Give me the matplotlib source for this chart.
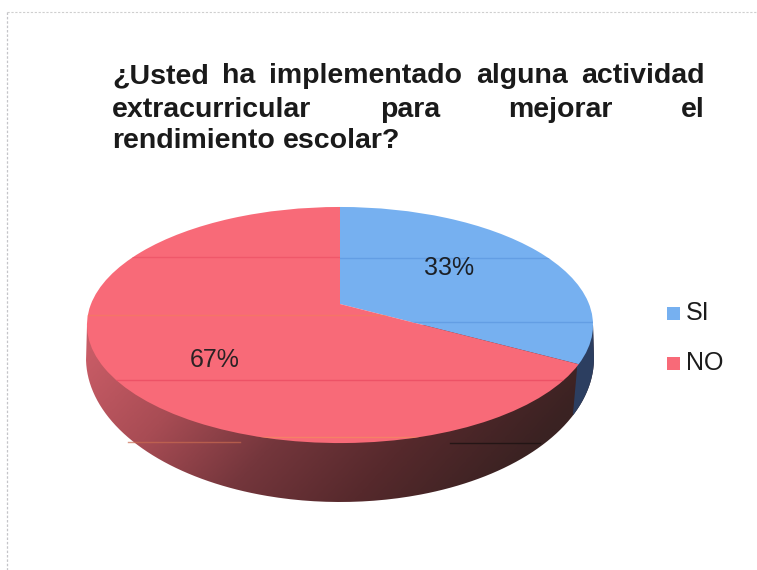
import numpy as np
import matplotlib
matplotlib.use("Agg")
import matplotlib.pyplot as plt
from matplotlib.path import Path
from matplotlib.patches import PathPatch, Rectangle
from matplotlib.transforms import Transform
from matplotlib.colors import LinearSegmentedColormap

plt.rcParams['font.family'] = ['Liberation Sans', 'DejaVu Sans']

# datos
categories = ["SI", "NO"]
values = [33, 67]
title_lines = ["¿Usted ha implementado alguna actividad",
               "extracurricular para mejorar el",
               "rendimiento escolar?"]
colors = ["#76b0f0", "#f86a78"]

# geometria en pixeles de la imagen
CX, CY = 340, 304
K, A, C = 0.178, 114.3, 249


class TiltTransform(Transform):
    """Proyecta el circulo unidad al disco inclinado (en pixeles)."""
    input_dims = output_dims = 2

    def transform_non_affine(self, xy):
        xy = np.asarray(xy)
        w = 1 + K * xy[:, 1]
        return np.column_stack([CX + C * xy[:, 0] / w, CY - A * xy[:, 1] / w])

    def transform_path_non_affine(self, path):
        return Path(self.transform_non_affine(path.vertices), path.codes)


fig = plt.figure(figsize=(7.57, 5.70), dpi=100)
ax = fig.add_axes([0, 0, 1, 1])

# --- cara superior ---
tilt = TiltTransform() + ax.transData
wedges, _ = ax.pie(values, colors=colors, startangle=90, counterclock=False,
                   wedgeprops=dict(transform=tilt, linewidth=0, zorder=5))
ax.set_aspect('auto')
ax.set_xlim(0, 757)
ax.set_ylim(570, 0)
ax.axis('off')

# marco punteado de la hoja (solo arriba e izquierda)
ax.plot([7, 757], [12, 12], color='#cfcfcf', lw=0.8, ls=(0, (2, 1.5)), zorder=1)
ax.plot([7, 7], [12, 570], color='#c4c4c8', lw=0.9, ls=(0, (2, 1.5)), zorder=1)

# --- lateral con degradado ---
t = np.radians(np.linspace(180, 360, 200))
bx = CX + 254 * np.cos(t)
by = 358 - 144 * np.sin(t)
side_verts = np.column_stack([bx, by])
side_verts = np.vstack([[87, 325], side_verts, [593, 325], [87, 325]])
side_path = Path(side_verts)

side_cmap = LinearSegmentedColormap.from_list(
    "lado", ["#c85c66", "#a84c54", "#74363c", "#56292c", "#3a2222"])
gx, gy = np.meshgrid(np.linspace(0, 1, 300), np.linspace(0, 1, 120))
grad = np.clip(0.95 * gx + 0.3 * gy - 0.05, 0, 1)
im = ax.imshow(grad, cmap=side_cmap, vmin=0, vmax=1, extent=(86, 594, 502, 325),
               aspect='auto', zorder=2, interpolation='bilinear')
im.set_clip_path(PathPatch(side_path, transform=ax.transData))
ax.set_xlim(0, 757)
ax.set_ylim(570, 0)

# trozo azul del lateral
blue_clip = Path([(577, 320), (600, 320), (600, 425), (572, 425), (577, 369)])
blue_side = PathPatch(side_path, fc='#2c3e60', ec='none', zorder=3)
ax.add_patch(blue_side)
blue_side.set_clip_path(blue_clip, ax.transData)

# lineas del escaneo
red_clip = (wedges[1].get_path(), wedges[1].get_patch_transform() + tilt)
blue_face_clip = (wedges[0].get_path(), wedges[0].get_patch_transform() + tilt)
for y, col in [(257, '#ec5266'), (315, '#f47a60'), (380, '#ea4a60'), (437, '#f58a60')]:
    ln, = ax.plot([87, 593], [y, y], color=col, lw=1, alpha=0.75, zorder=6)
    ln.set_clip_path(*red_clip)
for y in (258, 322):
    ln, = ax.plot([340, 593], [y, y], color='#5f9ae2', lw=1, alpha=0.8, zorder=6)
    ln.set_clip_path(*blue_face_clip)
ax.plot([128, 240], [442, 442], color='#c96a50', lw=1, alpha=0.7, zorder=4)
ax.plot([450, 540], [443, 443], color='#1c1212', lw=1, alpha=0.8, zorder=4)

# etiquetas
ax.text(449, 268, f"{values[0]}%", fontsize=18, ha='center', va='center', color='#1c2026', zorder=7)
ax.text(215, 360, f"{values[1]}%", fontsize=18, ha='center', va='center', color='#2a2224', zorder=7)

# leyenda
for cat, col, y in zip(categories, colors, (313.5, 363.5)):
    ax.add_patch(Rectangle((667, y - 6.5), 12.5, 13, fc=col, ec='none', zorder=5))
    ax.text(686, y, cat, fontsize=18, va='center', ha='left', color='#1c1c1c', zorder=5)

# titulo justificado
renderer = fig.canvas.get_renderer()
LEFT, RIGHT = 112, 705
for line, base, justify in zip(title_lines, (83, 117, 148), (True, True, False)):
    words = line.split()
    items = [ax.text(0, base, w, fontsize=20.5, fontweight='bold', va='baseline',
                     ha='left', color='#1a1a1a', zorder=5) for w in words]
    widths = [it.get_window_extent(renderer).width for it in items]
    gap = (RIGHT - LEFT - sum(widths)) / (len(words) - 1) if justify else 8
    x = LEFT
    for it, w in zip(items, widths):
        it.set_x(x)
        x += w + gap

fig.savefig("out.png", dpi=100)
